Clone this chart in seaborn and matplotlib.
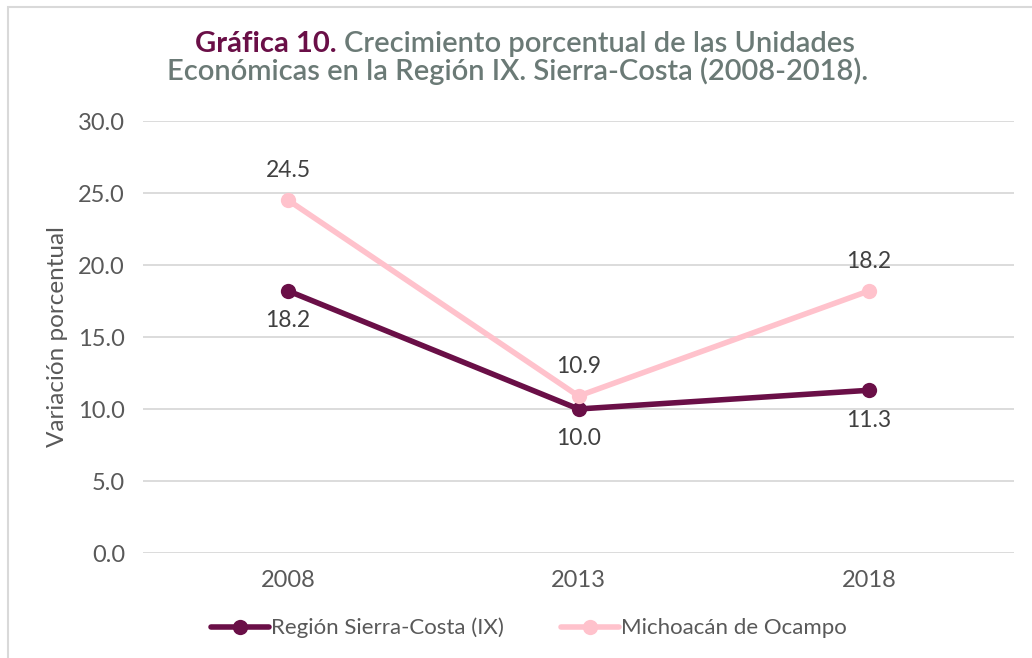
import matplotlib
matplotlib.use("Agg")
import matplotlib.pyplot as plt
import seaborn as sns
import pandas as pd
from matplotlib.patches import Rectangle
from matplotlib.lines import Line2D

years = ["2008", "2013", "2018"]
region = [18.2, 10.0, 11.3]
michoacan = [24.5, 10.9, 18.2]
series_names = ["Región Sierra-Costa (IX)", "Michoacán de Ocampo"]
yticks = [0, 5, 10, 15, 20, 25, 30]

PURPLE = "#6A0F47"
PINK = "#FFC2CC"
TEXT = "#595959"
TITLE_GRAY = "#6B7A76"
GRID = "#D9D9D9"

sns.set_theme(style="white")
plt.rcParams["font.family"] = ["Lato", "DejaVu Sans"]

df = pd.DataFrame({
    "year": years * 2,
    "value": region + michoacan,
    "series": [series_names[0]] * 3 + [series_names[1]] * 3,
})

fig = plt.figure(figsize=(10.32, 6.58), dpi=100)
ax = fig.add_axes([143 / 1032, 1 - 553 / 658, (1014 - 143) / 1032, (553 - 121) / 658])

sns.lineplot(data=df, x="year", y="value", hue="series", hue_order=series_names,
             palette=[PURPLE, PINK], marker="o", markersize=11, markeredgewidth=0,
             linewidth=4, sort=False, ax=ax, legend=False)
ax.set_xlim(-0.5, 2.5)
ax.set_ylim(0, 30)
ax.set_yticks(yticks)
ax.set_yticklabels([f"{v:.1f}" for v in yticks])
ax.yaxis.grid(True, color=GRID, linewidth=1.3)
ax.set_axisbelow(True)
for s in ax.spines.values():
    s.set_visible(False)
ax.tick_params(axis="both", length=0, labelsize=17, labelcolor=TEXT)
ax.tick_params(axis="y", pad=13)
ax.tick_params(axis="x", pad=12)
ax.set_xlabel("")
ax.set_ylabel("Variación porcentual", fontsize=17.5, color=TEXT, labelpad=7)

for i, v in enumerate(region):
    ax.annotate(f"{v:.1f}", (i, v), xytext=(0, -21.5), textcoords="offset points",
                ha="center", va="center", fontsize=16.5, color="#404040")
for i, v in enumerate(michoacan):
    ax.annotate(f"{v:.1f}", (i, v), xytext=(0, 21.5), textcoords="offset points",
                ha="center", va="center", fontsize=16.5, color="#404040")

handles = [Line2D([], [], color=PURPLE, lw=4, marker="o", markersize=11, markeredgewidth=0),
           Line2D([], [], color=PINK, lw=4, marker="o", markersize=11, markeredgewidth=0)]
leg = fig.legend(handles, series_names, loc="center", bbox_to_anchor=(529 / 1032, 1 - 628 / 658),
                 ncol=2, frameon=False, fontsize=16, handlelength=2.6, handletextpad=0.1,
                 columnspacing=2.6)
for t in leg.get_texts():
    t.set_color(TEXT)

fig.patches.append(Rectangle((8 / 1032, -0.05), 1.2, 1 - 7 / 658 + 0.05, transform=fig.transFigure,
                             fill=False, edgecolor=GRID, linewidth=1.5))

fig.canvas.draw()
r = fig.canvas.get_renderer()
y1 = 1 - 44 / 658
y2 = 1 - 71 / 658
part1 = "Gráfica 10. "
part2 = "Crecimiento porcentual de las Unidades"
t1 = fig.text(0, y1, part1, fontsize=21, fontweight="bold", color=PURPLE, va="center", ha="left")
t2 = fig.text(0, y1, part2, fontsize=21, fontweight="semibold", color=TITLE_GRAY, va="center", ha="left")
w1 = t1.get_window_extent(r).width / fig.bbox.width
w2 = t2.get_window_extent(r).width / fig.bbox.width
x0 = 525 / 1032 - (w1 + w2) / 2
t1.set_x(x0)
t2.set_x(x0 + w1)
fig.text(518 / 1032, y2, "Económicas en la Región IX. Sierra-Costa (2008-2018).", fontsize=21,
         fontweight="semibold", color=TITLE_GRAY, va="center", ha="center")

fig.savefig("out.png", dpi=100)
